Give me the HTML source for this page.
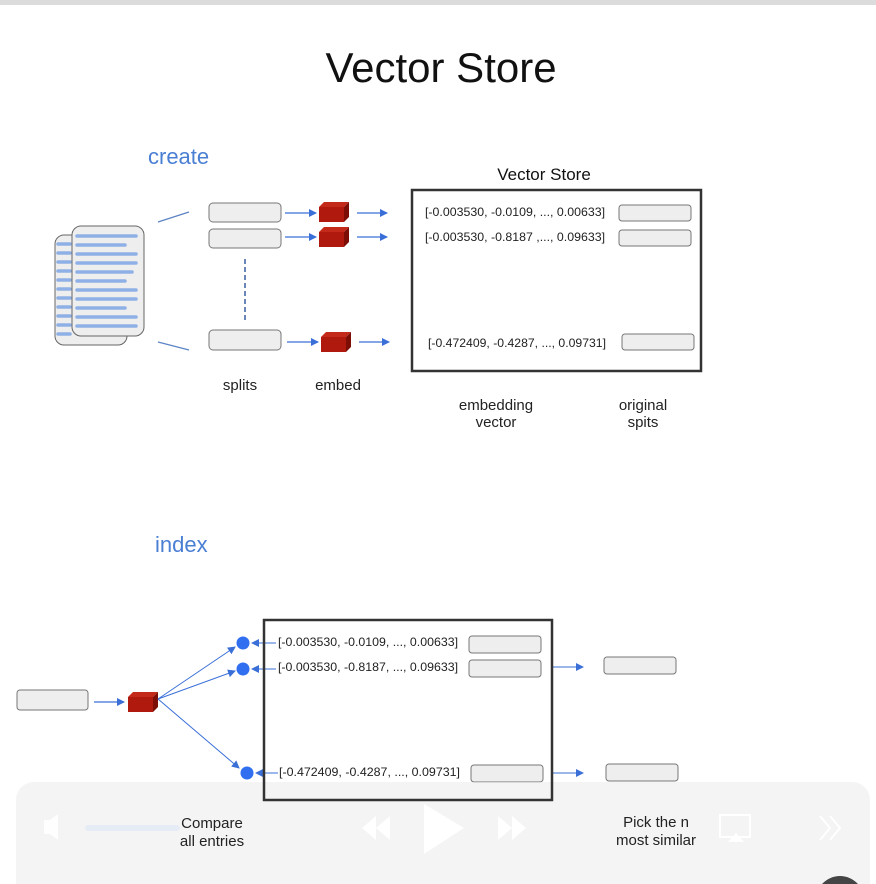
<!DOCTYPE html>
<html><head><meta charset="utf-8"><style>
html,body{margin:0;padding:0;background:#fff;width:876px;height:884px;overflow:hidden}
svg{display:block}
text{font-family:"Liberation Sans","DejaVu Sans",sans-serif}
</style></head><body>
<svg width="876" height="884" viewBox="0 0 876 884" xmlns="http://www.w3.org/2000/svg">
<defs>
<marker id="ah" markerWidth="8" markerHeight="8" refX="7" refY="4" orient="auto" markerUnits="userSpaceOnUse">
<path d="M0,0 L8,4 L0,8 z" fill="#3a6fd8"/></marker>
<g id="cube">
<path d="M0,5 L5,0 L30,0 L25,5 z" fill="#c42a1a"/>
<path d="M25,5 L30,0 L30,15 L25,20 z" fill="#7d0e06"/>
<rect x="0" y="5" width="25" height="15" fill="#b01a0e"/>
</g>
</defs>
<rect x="0" y="0" width="876" height="5" fill="#dcdcdc"/>
<text x="441" y="82" font-size="42" text-anchor="middle" fill="#111">Vector Store</text>
<text x="148" y="164" font-size="22" fill="#4a7fd4">create</text>
<text x="155" y="552" font-size="22" fill="#4a7fd4">index</text>

<!-- docs -->
<rect x="55" y="235" width="72" height="110" rx="9" fill="#eee" stroke="#666" stroke-width="1"/>
<g stroke="#8fb0e6" stroke-width="3.5" stroke-linecap="round">
<line x1="58" y1="244" x2="70" y2="244"/><line x1="58" y1="253" x2="70" y2="253"/><line x1="58" y1="262" x2="70" y2="262"/><line x1="58" y1="271" x2="70" y2="271"/><line x1="58" y1="280" x2="70" y2="280"/><line x1="58" y1="289" x2="70" y2="289"/><line x1="58" y1="298" x2="70" y2="298"/><line x1="58" y1="307" x2="70" y2="307"/><line x1="58" y1="316" x2="70" y2="316"/><line x1="58" y1="325" x2="70" y2="325"/><line x1="58" y1="334" x2="70" y2="334"/>
</g>
<rect x="72" y="226" width="72" height="110" rx="9" fill="#eee" stroke="#666" stroke-width="1"/>
<g stroke="#8fb0e6" stroke-width="3.5" stroke-linecap="round">
<line x1="77" y1="236" x2="136" y2="236"/><line x1="77" y1="245" x2="125" y2="245"/><line x1="77" y1="254" x2="136" y2="254"/><line x1="77" y1="263" x2="136" y2="263"/><line x1="77" y1="272" x2="132" y2="272"/><line x1="77" y1="281" x2="125" y2="281"/><line x1="77" y1="290" x2="136" y2="290"/><line x1="77" y1="299" x2="136" y2="299"/><line x1="77" y1="308" x2="125" y2="308"/><line x1="77" y1="317" x2="136" y2="317"/><line x1="77" y1="326" x2="136" y2="326"/>
</g>
<line x1="158" y1="222" x2="189" y2="212" stroke="#5b84c4" stroke-width="1.2"/>
<line x1="158" y1="342" x2="189" y2="350" stroke="#5b84c4" stroke-width="1.2"/>

<!-- splits -->
<g fill="#eee" stroke="#777" stroke-width="1">
<rect x="209" y="203" width="72" height="19" rx="4"/>
<rect x="209" y="229" width="72" height="19" rx="4"/>
<rect x="209" y="330" width="72" height="20" rx="4"/>
</g>
<line x1="245" y1="259" x2="245" y2="320" stroke="#3a5fa0" stroke-width="1.5" stroke-dasharray="5,3"/>
<g stroke="#3a6fd8" stroke-width="1.2" marker-end="url(#ah)">
<line x1="285" y1="213" x2="316" y2="213"/><line x1="285" y1="237" x2="316" y2="237"/><line x1="287" y1="342" x2="318" y2="342"/>
<line x1="357" y1="213" x2="387" y2="213"/><line x1="357" y1="237" x2="387" y2="237"/><line x1="359" y1="342" x2="389" y2="342"/>
</g>
<use href="#cube" x="319" y="202"/>
<use href="#cube" x="319" y="227"/>
<use href="#cube" x="321" y="332"/>
<text x="240" y="390" font-size="15" text-anchor="middle" fill="#222">splits</text>
<text x="338" y="390" font-size="15" text-anchor="middle" fill="#222">embed</text>

<!-- store -->
<text x="544" y="180" font-size="17" text-anchor="middle" fill="#111">Vector Store</text>
<rect x="412" y="190" width="289" height="181" fill="none" stroke="#333" stroke-width="2.5"/>
<text x="425" y="216" font-size="12" fill="#222" textLength="180" lengthAdjust="spacingAndGlyphs">[-0.003530, -0.0109, ..., 0.00633]</text>
<text x="425" y="241" font-size="12" fill="#222" textLength="180" lengthAdjust="spacingAndGlyphs">[-0.003530, -0.8187 ,..., 0.09633]</text>
<text x="428" y="347" font-size="12" fill="#222" textLength="178" lengthAdjust="spacingAndGlyphs">[-0.472409, -0.4287, ..., 0.09731]</text>
<g fill="#eee" stroke="#777" stroke-width="1">
<rect x="619" y="205" width="72" height="16" rx="3"/>
<rect x="619" y="230" width="72" height="16" rx="3"/>
<rect x="622" y="334" width="72" height="16" rx="3"/>
</g>
<text x="496" y="410" font-size="15" text-anchor="middle" fill="#222">embedding</text>
<text x="496" y="427" font-size="15" text-anchor="middle" fill="#222">vector</text>
<text x="643" y="410" font-size="15" text-anchor="middle" fill="#222">original</text>
<text x="643" y="427" font-size="15" text-anchor="middle" fill="#222">spits</text>

<!-- index -->
<rect x="17" y="690" width="71" height="20" rx="3" fill="#eee" stroke="#777"/>
<line x1="94" y1="702" x2="124" y2="702" stroke="#3a6fd8" stroke-width="1.2" marker-end="url(#ah)"/>
<use href="#cube" x="128" y="692"/>
<g stroke="#3a6fd8" stroke-width="1" marker-end="url(#ah)">
<line x1="158" y1="699" x2="235" y2="647"/>
<line x1="158" y1="699" x2="235" y2="671"/>
<line x1="158" y1="699" x2="239" y2="768"/>
<line x1="276" y1="643" x2="252" y2="643"/>
<line x1="276" y1="669" x2="252" y2="669"/>
<line x1="278" y1="773" x2="256" y2="773"/>
<line x1="553" y1="667" x2="583" y2="667"/>
<line x1="553" y1="773" x2="583" y2="773"/>
</g>
<g fill="#2f6ff0">
<circle cx="243" cy="643" r="6.5"/><circle cx="243" cy="669" r="6.5"/><circle cx="247" cy="773" r="6.5"/>
</g>
<text x="278" y="646" font-size="12" fill="#222" textLength="180" lengthAdjust="spacingAndGlyphs">[-0.003530, -0.0109, ..., 0.00633]</text>
<text x="278" y="671" font-size="12" fill="#222" textLength="180" lengthAdjust="spacingAndGlyphs">[-0.003530, -0.8187, ..., 0.09633]</text>
<text x="279" y="776" font-size="12" fill="#222" textLength="181" lengthAdjust="spacingAndGlyphs">[-0.472409, -0.4287, ..., 0.09731]</text>
<g fill="#eee" stroke="#777" stroke-width="1">
<rect x="469" y="636" width="72" height="17" rx="3"/>
<rect x="469" y="660" width="72" height="17" rx="3"/>
<rect x="471" y="765" width="72" height="17" rx="3"/>
<rect x="604" y="657" width="72" height="17" rx="3"/>
<rect x="606" y="764" width="72" height="17" rx="3"/>
</g>

<!-- overlay -->
<rect x="16" y="782" width="854" height="130" rx="18" fill="#ececec" fill-opacity="0.6"/>
<rect x="264" y="620" width="288" height="180" fill="none" stroke="#333" stroke-width="2.5"/>
<rect x="85" y="825" width="95" height="6" rx="3" fill="#e6ecf5"/>
<path d="M44,820 h6 l8,-6 v26 l-8,-6 h-6 z" fill="#fff" opacity="0.9"/>
<path d="M362,828 l14,-12 v24 z M376,828 l14,-12 v24 z" fill="#fff"/>
<path d="M424,804 l40,24 l-40,26 z" fill="#fff"/>
<path d="M498,816 l14,12 l-14,12 z M512,816 l14,12 l-14,12 z" fill="#fff"/>
<rect x="720" y="815" width="30" height="22" fill="none" stroke="#fff" stroke-width="2"/>
<path d="M728,842 l8,-9 l8,9 z" fill="#fff"/>
<path d="M820,816 l10,12 l-10,12 M830,816 l10,12 l-10,12" stroke="#fff" stroke-width="2" fill="none"/>
<circle cx="840" cy="900" r="24" fill="#444"/>
<text x="212" y="828" font-size="15" text-anchor="middle" fill="#222">Compare</text>
<text x="212" y="846" font-size="15" text-anchor="middle" fill="#222">all entries</text>
<text x="656" y="827" font-size="15" text-anchor="middle" fill="#222">Pick the n</text>
<text x="656" y="845" font-size="15" text-anchor="middle" fill="#222">most similar</text>
</svg>
</body></html>
